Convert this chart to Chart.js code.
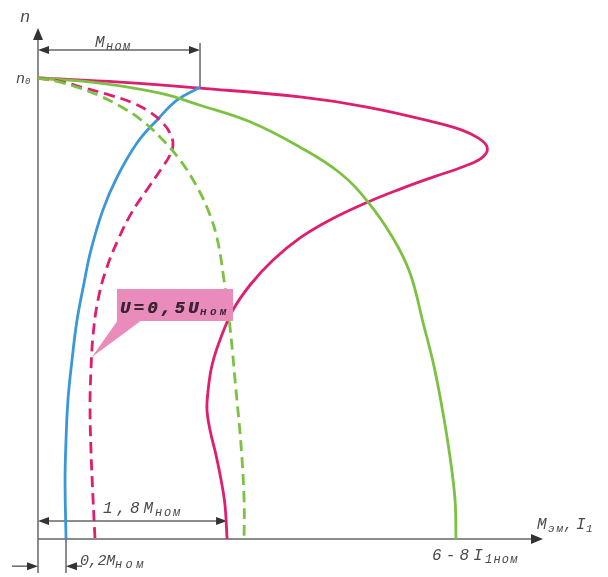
<!DOCTYPE html>
<html>
<head>
<meta charset="utf-8">
<style>
  html, body { margin: 0; padding: 0; background: #ffffff; }
  #wrap { width: 608px; height: 577px; }
</style>
<script src="https://cdn.jsdelivr.net/npm/chart.js@4.4.1/dist/chart.umd.min.js"></script>
</head>
<body>
<div id="wrap"><canvas id="c" width="608" height="577"></canvas></div>
<script>
// ---- data (x: torque / current in relative units, n: speed relative to n0) ----
const torqueX = [0, 0.506, 1.000, 1.617, 2.031, 2.438, 2.617, 2.716, 2.772, 2.747, 2.636, 2.438, 2.235, 2.037, 1.802, 1.617, 1.451, 1.309, 1.204, 1.130, 1.074, 1.049, 1.043, 1.062, 1.099, 1.130, 1.154, 1.167];
const torqueN = [1.000, 0.991, 0.978, 0.959, 0.937, 0.905, 0.887, 0.870, 0.850, 0.829, 0.809, 0.785, 0.759, 0.731, 0.692, 0.653, 0.605, 0.551, 0.497, 0.438, 0.377, 0.319, 0.280, 0.236, 0.182, 0.128, 0.074, 0];

const currentX = [0, 0.383, 0.753, 1.000, 1.309, 1.617, 1.864, 2.037, 2.191, 2.296, 2.377, 2.444, 2.500, 2.543, 2.574, 2.580];
const currentN = [1.000, 0.989, 0.967, 0.941, 0.905, 0.850, 0.794, 0.731, 0.653, 0.577, 0.469, 0.375, 0.273, 0.178, 0.085, 0];

const blueX = [1.000, 0.858, 0.735, 0.611, 0.488, 0.401, 0.327, 0.284, 0.241, 0.210, 0.185, 0.173, 0.167, 0.173];
const blueN = [0.980, 0.952, 0.909, 0.859, 0.785, 0.714, 0.627, 0.555, 0.475, 0.388, 0.302, 0.215, 0.128, 0];

const torqueHalfX = [0, 0.136, 0.290, 0.444, 0.586, 0.691, 0.772, 0.821, 0.833, 0.815, 0.765, 0.679, 0.580, 0.494, 0.420, 0.370, 0.340, 0.327, 0.321, 0.327, 0.340, 0.352];
const torqueHalfN = [1.000, 0.993, 0.978, 0.963, 0.946, 0.926, 0.902, 0.876, 0.855, 0.833, 0.805, 0.761, 0.709, 0.649, 0.584, 0.518, 0.443, 0.367, 0.291, 0.193, 0.085, 0];

const currentHalfX = [0, 0.136, 0.259, 0.383, 0.506, 0.630, 0.753, 0.877, 0.975, 1.049, 1.105, 1.148, 1.185, 1.222, 1.253, 1.272, 1.272];
const currentHalfN = [1.000, 0.991, 0.978, 0.961, 0.939, 0.911, 0.872, 0.822, 0.768, 0.714, 0.653, 0.562, 0.460, 0.323, 0.204, 0.085, 0];

// key values
const ratedM = 1.0;        // M_ном
const startM = 1.167;      // 1,8 M_ном (start torque)
const lowM = 0.173;        // 0,2 M_ном
const ratedN = 0.980;      // speed at rated torque
const calloutM = 0.333, calloutN = 0.395;
const axisMaxX = 3.117;
const axisMaxN = 1.1085;

// texts
const labelN = 'n';
const labelN0 = ['n', '0'];
const labelRated = ['M', 'ном'];
const labelStart = ['1,8M', 'ном'];
const labelLow = ['0,2M', 'ном'];
const labelCurrent = ['6-8I', '1ном'];
const labelAxisX = ['M', 'эм', ',', 'I', '1'];
const labelCallout = ['U=0,5U', 'ном'];

const MAG = '#de1e6e', GRN = '#7cc242', BLU = '#3b97d8';
const INK = '#4a4a4a', AX = '#666666';

function zip(xs, ys) { return xs.map((v, i) => ({ x: v, y: ys[i] })); }

function arrowHead(ctx, tx, ty, dx, dy, len, half) {
  len = len || 10; half = half || 4;
  const px = -dy, py = dx;
  ctx.beginPath();
  ctx.moveTo(tx, ty);
  ctx.lineTo(tx - dx * len + px * half, ty - dy * len + py * half);
  ctx.lineTo(tx - dx * len - px * half, ty - dy * len - py * half);
  ctx.closePath();
  ctx.fill();
}

function line(ctx, x1, y1, x2, y2) {
  ctx.beginPath(); ctx.moveTo(x1, y1); ctx.lineTo(x2, y2); ctx.stroke();
}

// parts: {t, s (font size), w (target width), dy, b (bold)}
function rich(ctx, x, y, parts, color) {
  ctx.save();
  ctx.fillStyle = color;
  ctx.textBaseline = 'alphabetic';
  ctx.textAlign = 'left';
  let cx = x;
  for (const p of parts) {
    ctx.font = (p.b ? 'bold ' : '') + 'italic ' + p.s + 'px "Liberation Mono", "DejaVu Sans Mono", monospace';
    ctx.letterSpacing = '0px';
    const w0 = ctx.measureText(p.t).width;
    let ls = 0;
    if (p.w && p.t.length > 1) ls = Math.max(-1, (p.w - w0) / (p.t.length - 0.5));
    ctx.letterSpacing = ls + 'px';
    ctx.fillText(p.t, cx, y + (p.dy || 0));
    cx += p.w ? p.w : w0;
  }
  ctx.restore();
}

const axesPlugin = {
  id: 'axesPlugin',
  beforeDatasetsDraw(chart) {
    const { ctx, scales: { x, y } } = chart;
    const X = v => x.getPixelForValue(v), Y = v => y.getPixelForValue(v);
    ctx.save();
    ctx.strokeStyle = AX; ctx.fillStyle = '#333';
    ctx.lineWidth = 1.5;
    // y axis
    line(ctx, X(0), Y(0) + 34, X(0), Y(axisMaxN) + 6);
    arrowHead(ctx, X(0), Y(axisMaxN), 0, -1, 12, 5);
    // x axis
    line(ctx, X(0), Y(0), X(axisMaxX) - 6, Y(0));
    arrowHead(ctx, X(axisMaxX), Y(0), 1, 0, 12, 5);
    // rated torque dimension
    const yR = Y(1.061);
    line(ctx, X(0) + 4, yR, X(ratedM) - 4, yR);
    arrowHead(ctx, X(0), yR, -1, 0, 11, 4);
    arrowHead(ctx, X(ratedM), yR, 1, 0, 11, 4);
    line(ctx, X(ratedM), yR - 7, X(ratedM), Y(ratedN));
    // start torque dimension
    const yS = Y(0.039);
    line(ctx, X(0) + 4, yS, X(startM) - 4, yS);
    arrowHead(ctx, X(0), yS, -1, 0, 11, 4);
    arrowHead(ctx, X(startM), yS, 1, 0, 11, 4);
    // low torque dimension
    const yL = Y(-0.059);
    line(ctx, X(lowM), Y(0), X(lowM), Y(0) + 34);
    line(ctx, X(0) - 26, yL, X(0) - 6, yL);
    arrowHead(ctx, X(0), yL, 1, 0, 11, 4);
    line(ctx, X(lowM) + 6, yL, X(lowM) + 16, yL);
    arrowHead(ctx, X(lowM), yL, -1, 0, 11, 4);
    ctx.restore();
  },
  afterDatasetsDraw(chart) {
    const { ctx, scales: { x, y } } = chart;
    const X = v => x.getPixelForValue(v), Y = v => y.getPixelForValue(v);
    // labels
    rich(ctx, X(0) - 18, Y(axisMaxN) - 6, [{ t: labelN, s: 17 }], INK);
    rich(ctx, X(0) - 22, Y(1) + 5, [{ t: labelN0[0], s: 15 }, { t: labelN0[1], s: 9, dy: 1 }], INK);
    rich(ctx, X(0) + 57, Y(1.061) - 3, [{ t: labelRated[0], s: 16, w: 11 }, { t: labelRated[1], s: 12, w: 25, dy: 3 }], INK);
    rich(ctx, X(0) + 65, Y(0.039) - 8, [{ t: labelStart[0], s: 16, w: 52 }, { t: labelStart[1], s: 12, w: 26, dy: 3 }], INK);
    rich(ctx, X(lowM) + 14, Y(-0.059) - 1, [{ t: labelLow[0], s: 15, w: 35 }, { t: labelLow[1], s: 12, w: 30, dy: 3 }], INK);
    rich(ctx, X(currentX[currentX.length - 1]) - 24, Y(0) + 21, [{ t: labelCurrent[0], s: 16, w: 53 }, { t: labelCurrent[1], s: 12, w: 33, dy: 3 }], INK);
    rich(ctx, X(axisMaxX) - 6, Y(0) - 10, [
      { t: labelAxisX[0], s: 16, w: 11 }, { t: labelAxisX[1], s: 11, w: 16, dy: 3 },
      { t: labelAxisX[2], s: 14, w: 12 }, { t: labelAxisX[3], s: 16, w: 10 }, { t: labelAxisX[4], s: 11, w: 10, dy: 3 }
    ], INK);
    // callout
    const tipX = X(calloutM), tipY = Y(calloutN);
    ctx.save();
    ctx.fillStyle = '#e98cbc';
    ctx.beginPath();
    ctx.rect(117, 289, 116, 32);
    ctx.fill();
    ctx.beginPath();
    ctx.moveTo(118, 320); ctx.lineTo(142, 320); ctx.lineTo(tipX, tipY); ctx.closePath();
    ctx.fill();
    ctx.restore();
    rich(ctx, 120, 313, [{ t: labelCallout[0], s: 17, w: 80, b: true }, { t: labelCallout[1], s: 11, w: 28, dy: 2, b: true }], '#3a2535');
    rich(ctx, 120.6, 313, [{ t: labelCallout[0], s: 17, w: 80, b: true }], '#3a2535');
  }
};

const common = { pointRadius: 0, tension: 0.4, borderWidth: 2.8, clip: false, fill: false };

new Chart(document.getElementById('c'), {
  type: 'line',
  data: {
    datasets: [
      Object.assign({ data: zip(currentHalfX, currentHalfN), borderColor: GRN, borderDash: [11, 6] }, common),
      Object.assign({ data: zip(torqueHalfX, torqueHalfN), borderColor: MAG, borderDash: [11, 6] }, common),
      Object.assign({ data: zip(currentX, currentN), borderColor: GRN }, common),
      Object.assign({ data: zip(blueX, blueN), borderColor: BLU }, common),
      Object.assign({ data: zip(torqueX, torqueN), borderColor: MAG }, common)
    ]
  },
  options: {
    responsive: false,
    animation: false,
    layout: { padding: { left: 38, right: 65, top: 28, bottom: 38 } },
    plugins: { legend: { display: false }, tooltip: { enabled: false } },
    scales: {
      x: { type: 'linear', min: 0, max: axisMaxX, display: false },
      y: { type: 'linear', min: 0, max: axisMaxN, display: false }
    }
  },
  plugins: [axesPlugin]
});
</script>
</body>
</html>
